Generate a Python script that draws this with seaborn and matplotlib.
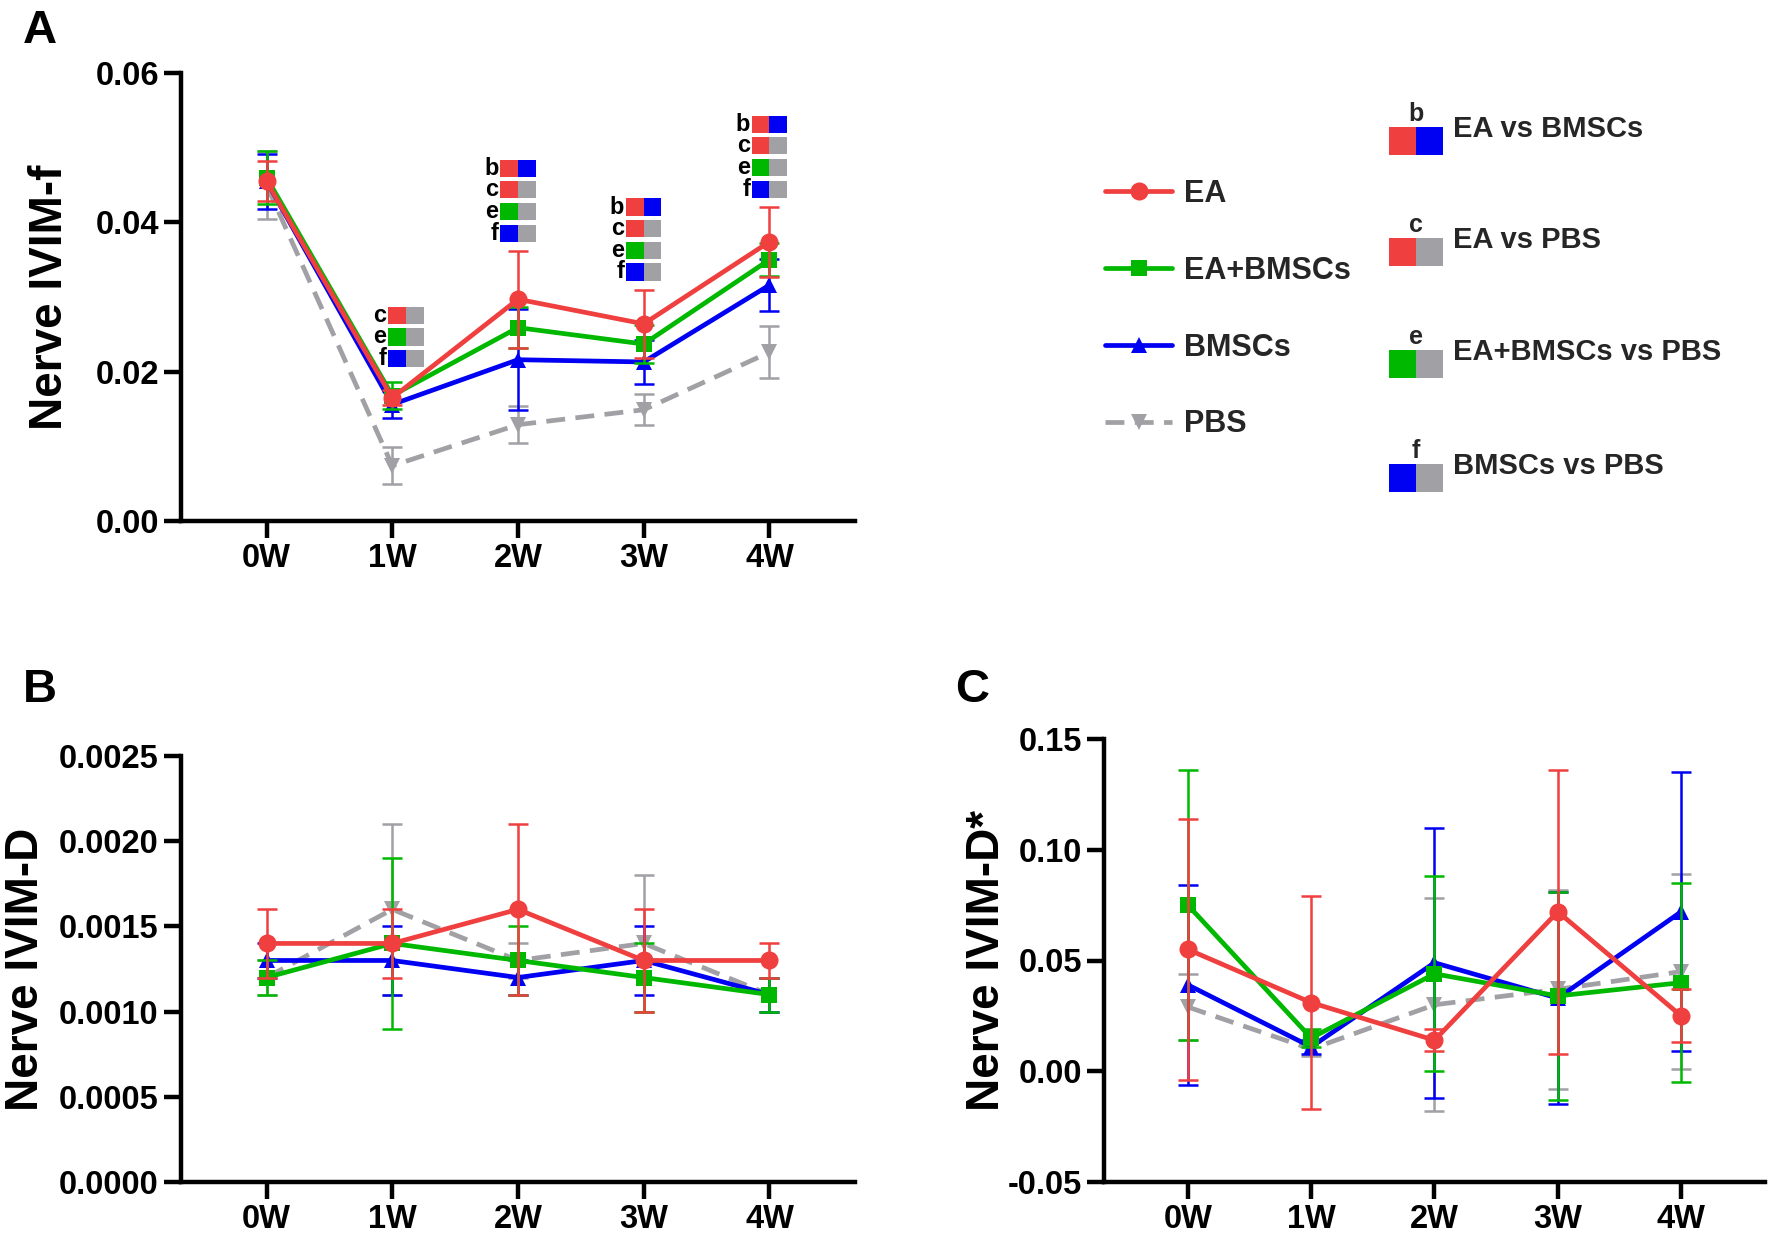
import numpy as np
import pandas as pd
import matplotlib
matplotlib.use("Agg")
import matplotlib.pyplot as plt
import seaborn as sns
from matplotlib.patches import Rectangle

# ---------------- data ----------------
times = ["0W", "1W", "2W", "3W", "4W"]
groups = ["EA", "EA+BMSCs", "BMSCs", "PBS"]

# Panel A : Nerve IVIM-f (mean, SD)
f_EA = [0.0455, 0.0165, 0.0297, 0.0264, 0.0374]
f_EA_sd = [0.0027, 0.0010, 0.0065, 0.0046, 0.0047]
f_EB = [0.0460, 0.0168, 0.0259, 0.0237, 0.0350]
f_EB_sd = [0.0036, 0.0018, 0.0027, 0.0025, 0.0022]
f_BM = [0.0455, 0.0156, 0.0216, 0.0213, 0.0316]
f_BM_sd = [0.0037, 0.0018, 0.0068, 0.0030, 0.0035]
f_PBS = [0.0450, 0.0074, 0.0129, 0.0149, 0.0226]
f_PBS_sd = [0.0045, 0.0025, 0.0025, 0.0021, 0.0035]

# Panel B : Nerve IVIM-D
D_EA = [0.0014, 0.0014, 0.0016, 0.0013, 0.0013]
D_EA_sd = [0.0002, 0.0002, 0.0005, 0.0003, 0.0001]
D_EB = [0.0012, 0.0014, 0.0013, 0.0012, 0.0011]
D_EB_sd = [0.0001, 0.0005, 0.0002, 0.0002, 0.0001]
D_BM = [0.0013, 0.0013, 0.0012, 0.0013, 0.0011]
D_BM_sd = [0.0001, 0.0002, 0.0001, 0.0002, 0.0001]
D_PBS = [0.0012, 0.0016, 0.0013, 0.0014, 0.0011]
D_PBS_sd = [0.0001, 0.0005, 0.0001, 0.0004, 0.0001]

# Panel C : Nerve IVIM-D*
Ds_EA = [0.055, 0.031, 0.014, 0.072, 0.025]
Ds_EA_sd = [0.059, 0.048, 0.005, 0.064, 0.012]
Ds_EB = [0.075, 0.015, 0.044, 0.034, 0.040]
Ds_EB_sd = [0.061, 0.004, 0.044, 0.047, 0.045]
Ds_BM = [0.039, 0.011, 0.049, 0.033, 0.072]
Ds_BM_sd = [0.045, 0.003, 0.061, 0.048, 0.063]
Ds_PBS = [0.029, 0.010, 0.030, 0.037, 0.045]
Ds_PBS_sd = [0.015, 0.003, 0.048, 0.045, 0.044]

# significance letters in panel A per time point (top to bottom)
sig_letters = {1: ["c", "e", "f"], 2: ["b", "c", "e", "f"],
               3: ["b", "c", "e", "f"], 4: ["b", "c", "e", "f"]}
sig_pairs = {"b": ("EA", "BMSCs"), "c": ("EA", "PBS"),
             "e": ("EA+BMSCs", "PBS"), "f": ("BMSCs", "PBS")}
sig_labels = {"b": "EA vs BMSCs", "c": "EA vs PBS",
              "e": "EA+BMSCs vs PBS", "f": "BMSCs vs PBS"}

# ---------------- style ----------------
colors = {"EA": "#EF3F3F", "EA+BMSCs": "#00B800", "BMSCs": "#0000F2", "PBS": "#A0A0A5"}
markers = {"EA": "o", "EA+BMSCs": "s", "BMSCs": "^", "PBS": "v"}
msizes = {"EA": 13, "EA+BMSCs": 11, "BMSCs": 12, "PBS": 12}
lstyles = {"EA": "-", "EA+BMSCs": "-", "BMSCs": "-", "PBS": (0, (4.0, 2.2))}
draw_order = ["PBS", "BMSCs", "EA+BMSCs", "EA"]

sns.set_theme(style="ticks")
plt.rcParams["font.family"] = ["Liberation Sans", "DejaVu Sans"]
plt.rcParams["font.weight"] = "bold"
plt.rcParams["axes.labelweight"] = "bold"

W, H = 1783, 1244
fig = plt.figure(figsize=(W / 100, H / 100), dpi=100)


def px_axes(l, t, r, b):
    return fig.add_axes([l / W, 1 - b / H, (r - l) / W, (b - t) / H])


axA = px_axes(181, 73, 855, 521)
axB = px_axes(181, 756, 855, 1182)
axC = px_axes(1104, 739, 1765, 1182)


def draw(ax, means, sds):
    lines = {}
    for z, g in enumerate(draw_order):
        df = pd.DataFrame({"t": np.arange(len(times)), "v": means[g], "sd": sds[g]})
        ax.errorbar(df["t"], df["v"], yerr=df["sd"], fmt="none", ecolor=colors[g],
                    elinewidth=1.8, capsize=7, capthick=1.8, zorder=2 + 2 * z)
        sns.lineplot(data=df, x="t", y="v", ax=ax, color=colors[g], marker=markers[g],
                     markersize=msizes[g], markeredgewidth=0, linewidth=3.4,
                     linestyle=lstyles[g], label=g, legend=False, errorbar=None,
                     zorder=3 + 2 * z)
        lines[g] = ax.get_lines()[-1]
    return lines


def style(ax, ylabel, ylim, yticks, fmt, labx):
    ax.set_xlim(-0.68, 4.68)
    ax.set_ylim(*ylim)
    ax.set_xticks(range(len(times)))
    ax.set_xticklabels(times)
    ax.set_yticks(yticks)
    ax.set_yticklabels([fmt.format(v) for v in yticks])
    sns.despine(ax=ax)
    for s in ["left", "bottom"]:
        ax.spines[s].set_linewidth(3.2)
        ax.spines[s].set_color("black")
    ax.tick_params(axis="both", width=3.2, length=12, labelsize=23.5, pad=4,
                   color="black", labelcolor="black")
    ax.set_xlabel("")
    ax.set_ylabel(ylabel, fontsize=33, fontweight="bold", color="black")
    ax.yaxis.set_label_coords(labx, 0.5)
    for lab in ax.get_xticklabels() + ax.get_yticklabels():
        lab.set_fontweight("bold")


linesA = draw(axA, dict(zip(groups, [f_EA, f_EB, f_BM, f_PBS])),
              dict(zip(groups, [f_EA_sd, f_EB_sd, f_BM_sd, f_PBS_sd])))
draw(axB, dict(zip(groups, [D_EA, D_EB, D_BM, D_PBS])),
     dict(zip(groups, [D_EA_sd, D_EB_sd, D_BM_sd, D_PBS_sd])))
draw(axC, dict(zip(groups, [Ds_EA, Ds_EB, Ds_BM, Ds_PBS])),
     dict(zip(groups, [Ds_EA_sd, Ds_EB_sd, Ds_BM_sd, Ds_PBS_sd])))

style(axA, "Nerve IVIM-f", (0, 0.06), [0, 0.02, 0.04, 0.06], "{:.2f}", -0.162)
style(axB, "Nerve IVIM-D", (0, 0.0025), [0, 0.0005, 0.001, 0.0015, 0.002, 0.0025],
      "{:.4f}", -0.198)
style(axC, "Nerve IVIM-D*", (-0.05, 0.15), [-0.05, 0, 0.05, 0.10, 0.15], "{:.2f}", -0.144)

# ---------------- significance blocks in panel A ----------------
tops = np.max(np.array([np.add(f_EA, f_EA_sd), np.add(f_EB, f_EB_sd),
                        np.add(f_BM, f_BM_sd), np.add(f_PBS, f_PBS_sd)]), axis=0)
row_h, box_h, half_w = 0.0029, 0.0023, 0.14
x_off = {1: 0.11, 2: 0.0, 3: 0.0, 4: 0.0}
gap = {1: 0.0017, 2: 0.0009, 3: 0.0009, 4: 0.0009}
for ti, letters in sig_letters.items():
    base = tops[ti] + gap[ti]
    n = len(letters)
    for k, L in enumerate(letters):
        cy = base + (n - 1 - k + 0.5) * row_h
        x0 = ti + x_off[ti] - half_w
        c1, c2 = sig_pairs[L]
        axA.add_patch(Rectangle((x0, cy - box_h / 2), half_w, box_h,
                                facecolor=colors[c1], edgecolor="none", zorder=20))
        axA.add_patch(Rectangle((x0 + half_w, cy - box_h / 2), half_w, box_h,
                                facecolor=colors[c2], edgecolor="none", zorder=20))
        axA.text(x0 - 0.015, cy, L, ha="right", va="center", fontsize=17,
                 fontweight="bold", color="black", zorder=21)

# ---------------- legends ----------------
fig.legend([linesA[g] for g in groups], groups, loc="upper left",
           bbox_to_anchor=(1105 / W, 1 - 179 / H), frameon=False, fontsize=22,
           handlelength=2.2, handletextpad=0.4, labelspacing=1.53,
           borderpad=0, borderaxespad=0, numpoints=1)

ov = fig.add_axes([0, 0, 1, 1])
ov.set_xlim(0, W)
ov.set_ylim(H, 0)
ov.axis("off")
ov.patch.set_alpha(0)
box_cy = [141, 252, 364, 478]
for L, cy in zip(["b", "c", "e", "f"], box_cy):
    c1, c2 = sig_pairs[L]
    ov.add_patch(Rectangle((1389, cy - 14), 27, 28, facecolor=colors[c1], edgecolor="none"))
    ov.add_patch(Rectangle((1416, cy - 14), 27, 28, facecolor=colors[c2], edgecolor="none"))
    ov.text(1416, cy - 27, L, ha="center", va="center", fontsize=18, fontweight="bold")
    ov.text(1453, cy - 12, sig_labels[L], ha="left", va="center", fontsize=21,
            fontweight="bold")

# panel letters
for lab, (x, y) in {"A": (40, 31), "B": (40, 690), "C": (972, 690)}.items():
    fig.text(x / W, 1 - y / H, lab, ha="center", va="center", fontsize=34,
             fontweight="bold", color="black")

fig.savefig("out.png", dpi=100, facecolor="white")
